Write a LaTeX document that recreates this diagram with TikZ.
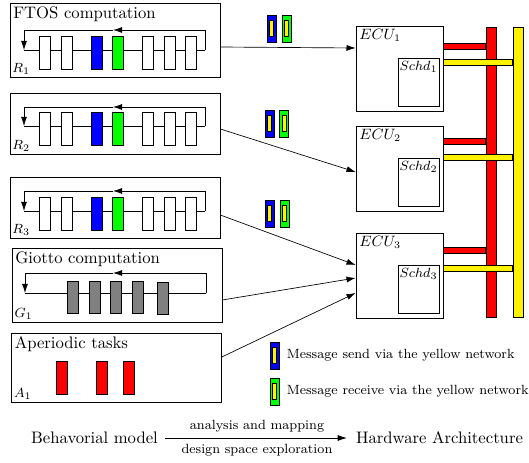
\documentclass[tikz,border=0pt]{standalone}
\usepackage{amsmath}
\usetikzlibrary{calc,positioning,arrows.meta}

\newcommand{\pxu}{0.6pt}

\tikzset{
	>={Latex[length=5.5pt,width=3.6pt]},
	model/.style={draw, inner sep=0pt, minimum width=210*\pxu},
	task/.style={draw, fill=white, inner sep=0pt, minimum width=11*\pxu, minimum height=33*\pxu},
	ecu/.style={draw, inner sep=0pt, minimum width=87*\pxu, minimum height=85*\pxu},
	sched/.style={draw, inner sep=0pt, minimum width=41*\pxu, minimum height=48*\pxu},
	bus/.style={draw, inner sep=0pt, minimum width=10*\pxu, minimum height=290*\pxu},
	msg/.style={draw, inner sep=0pt, minimum width=9*\pxu, minimum height=27*\pxu,
		path picture={\draw[fill=yellow] ([shift={(-1.2pt,-4.8pt)}]path picture bounding box.center)
			rectangle ([shift={(1.2pt,4.8pt)}]path picture bounding box.center);}},
	msgsend/.style={msg, fill=blue},
	msgrecv/.style={msg, fill=green},
	title/.style={anchor=north west, inner sep=2pt},
	tag/.style={anchor=south west, inner sep=1.5pt, font=\footnotesize},
}

\begin{document}
\begin{tikzpicture}[x=0.6pt, y=-0.6pt]
	\useasboundingbox (0,0) rectangle (529,463);
	% behavioral model
	\node[model, minimum height=74*\pxu] (r1) at (115,40) {};
	\node[model, minimum height=61*\pxu] (r2) at (115,123.5) {};
	\node[model, minimum height=61*\pxu] (r3) at (115,207.5) {};
	\node[model, minimum height=74*\pxu] (g1) at (117,285) {};
	\node[model, minimum height=69*\pxu] (a1) at (116.5,367.5) {};
	\node[title] at (r1.north west) {FTOS computation};
	\node[title] at (g1.north west) {Giotto computation};
	\node[title] at (a1.north west) {Aperiodic tasks};
	\node[tag] at (r1.south west) {$R_1$};
	\node[tag] at (r2.south west) {$R_2$};
	\node[tag] at (r3.south west) {$R_3$};
	\node[tag] at (g1.south west) {$G_1$};
	\node[tag] at (a1.south west) {$A_1$};
	%
	\foreach \n/\y/\t in {1/50/30, 2/126/107, 3/211/191} {
		\draw (24,\y) -- (205,\y);
		\draw[->] (205,\y) -- (205,\t) -- (113,\t);
		\draw[->] (113,\t) -- (24,\t) -- (24,\y);
		\foreach \x/\c in {45/white, 67/white, 97/blue, 118/green, 148/white, 170/white, 191/white}
			\node[task, fill=\c] (r\n-\x) at (\x,\y+3) {};
	}
	\draw (25,293) -- (206,293);
	\draw[->] (206,293) -- (206,273) -- (113,273);
	\draw[->] (113,273) -- (25,273) -- (25,293);
	\foreach \x/\d in {72.5/0, 94.5/0, 116/0, 138/0, 162.5/1}
		\node[task, fill=gray, minimum height=32*\pxu] (g1-\x) at (\x,297+\d) {};
	\foreach \x in {61.5, 101.5, 128.5}
		\node[task, fill=red] (a1-\x) at (\x,377.5) {};
	%
	% hardware architecture
	\foreach \i/\y in {1/68.5, 2/168.5, 3/275.5} {
		\node[ecu] (ecu\i) at (399.5,\y) {};
		\node[sched, anchor=south east] (schd\i) at ([shift={(-4,-5)}]ecu\i.south east) {};
		\node[anchor=north west, inner sep=2pt, font=\small] at (ecu\i.north west) {$ECU_\i$};
		\node[anchor=north, inner sep=2pt, font=\footnotesize] at (schd\i.north) {$Schd_\i$};
	}
	\node[bus, fill=red] (redbus) at (491,172) {};
	\node[bus, minimum height=0pt] (yellowbus) at (518,172) {};
	\foreach \i/\ry/\yy in {1/43/59, 2/138/154, 3/247/265}
		\draw[fill=red] (ecu\i.east |- 0,\ry) rectangle (redbus.west |- 0,\ry+6);
	\foreach \i/\ry/\yy in {1/43/59, 2/138/154, 3/247/265}
		\draw[fill=yellow] (ecu\i.east |- 0,\yy) rectangle (yellowbus.west |- 0,\yy+6);
	\node[bus, fill=yellow] at (yellowbus) {};
	%
	\draw[->] ($(r1.east)+(0,7)$) -- ($(ecu1.west)+(0,-20.5)$);
	\draw[->] ($(r2.east)+(0,5.5)$) -- ($(ecu2.west)+(0,3.5)$);
	\draw[->] ($(r3.east)+(0,7.5)$) -- ($(ecu3.west)+(0,-10.5)$);
	\draw[->] ($(g1.east)+(0,15)$) -- ($(ecu3.west)+(0,2.5)$);
	\draw[->] ($(a1.east)+(0,-10.5)$) -- ($(ecu3.west)+(0,17.5)$);
	%
	\node[msgsend] (s1) at (271.5,28.5) {};
	\node[msgrecv] (c1) at (286.5,28.5) {};
	\node[msgsend] (s2) at (269.5,123.5) {};
	\node[msgrecv] (c2) at (284,123.5) {};
	\node[msgsend] (s3) at (269.5,213.5) {};
	\node[msgrecv] (c3) at (284.5,213.5) {};
	% legend
	\node[msgsend] (sendkey) at (274.5,355.5) {};
	\node[msgrecv] (recvkey) at (274.5,391.5) {};
	\node[right=1pt of sendkey, font=\footnotesize] (sendtxt) {Message send via the yellow network};
	\node[right=1pt of recvkey, font=\footnotesize] (recvtxt) {Message receive via the yellow network};
	%
	\node (beh) at (94.5,438) {Behavorial model};
	\node (hw) at (439.5,438) {Hardware Architecture};
	\draw[->, shorten >=2pt, shorten <=1pt] (beh) -- node[above, font=\footnotesize] (map) {analysis and mapping}
		node[below, font=\footnotesize] (dse) {design space exploration} (hw);
\end{tikzpicture}
\end{document}
